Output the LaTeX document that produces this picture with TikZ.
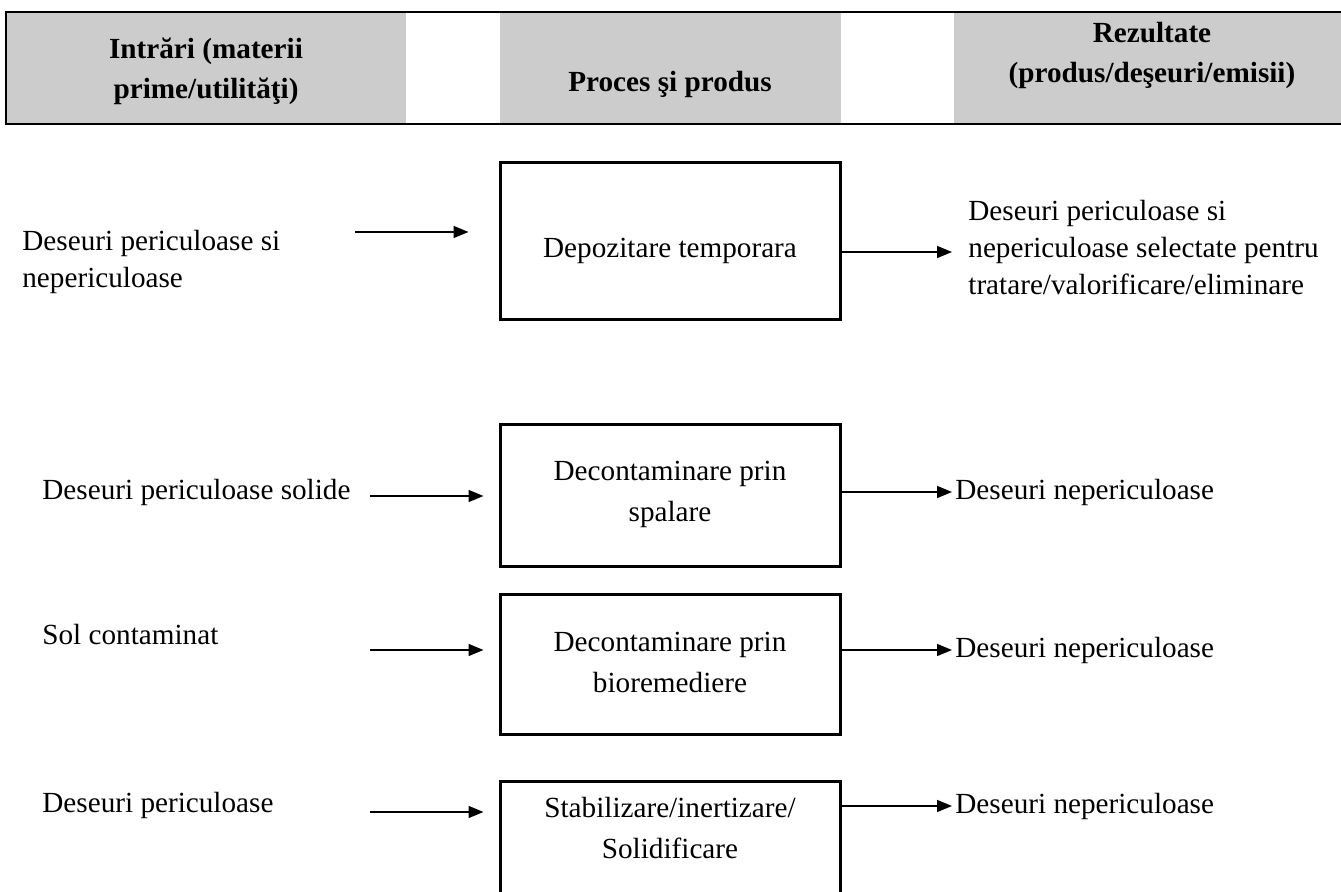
\documentclass[tikz,border=0pt]{standalone}
\usepackage{fontspec}
\setmainfont{Liberation Serif}
\definecolor{headGray}{HTML}{CCCCCC}
\usetikzlibrary{arrows.meta, positioning, calc}

\begin{document}
\begin{tikzpicture}[x=0.5pt, y=-0.5pt,
    headcell/.style={fill=headGray, draw=none, inner sep=0pt, anchor=north west, minimum height=55.5pt},
    headtxt/.style={font=\fontsize{14.6}{20}\selectfont\bfseries, align=center, inner sep=0pt},
    bodytxt/.style={font=\fontsize{14.6}{18.5}\selectfont, align=left, anchor=west, inner sep=0pt},
    procbox/.style={draw, line width=1.5pt, minimum width=170pt, inner sep=0pt},
    proctxt/.style={font=\fontsize{14.6}{20.5}\selectfont, align=center, inner sep=0pt},
    flow/.style={-{Triangle[length=7.5pt, width=6pt]}, line width=0.75pt}]
  \clip (0,0) rectangle (1341,892);

  % header row
  \node[headcell, minimum width=200pt] (cellIn) at (6,12) {};
  \node[headcell, minimum width=170.5pt] (cellProc) at (500,12) {};
  \node[headcell, minimum width=193.5pt] (cellOut) at (954,12) {};
  \draw[line width=0.9pt] (cellOut.north east) -- (cellIn.north west)
        -- (cellIn.south west) -- (cellOut.south east);
  \node[headtxt] (hdrIn) at (206,71.5) {Intrări (materii\\prime/utilităţi)};
  \node[headtxt] (hdrProc) at (670,84.5) {Proces şi produs};
  \node[headtxt] (hdrOut) at (1152,55.5) {Rezultate\\(produs/deşeuri/emisii)};

  % process boxes
  \node[procbox, minimum height=78.5pt] (depo) at (670,241.5) {};
  \node[procbox, minimum height=71pt] (spal) at (670,496) {};
  \node[procbox, minimum height=70pt] (bior) at (670,665) {};
  \node[procbox, minimum height=71pt] (stab) at (670,853) {};
  \node[proctxt] (depoTxt) at (670,250.5) {Depozitare temporara};
  \node[proctxt] (spalTxt) at (670,494) {Decontaminare prin\\spalare};
  \node[proctxt] (biorTxt) at (670,662) {Decontaminare prin\\bioremediere};
  \node[proctxt] (stabTxt) at (670,828) {Stabilizare/inertizare/\\Solidificare};

  % inputs
  \node[bodytxt] (inDepo) at (22,261.5) {Deseuri periculoase si\\nepericuloase};
  \node[bodytxt] (inSpal) at (42,492) {Deseuri periculoase solide};
  \node[bodytxt] (inBior) at (42,635) {Sol contaminat};
  \node[bodytxt] (inStab) at (42,805) {Deseuri periculoase};

  % outputs
  \node[bodytxt] (outDepo) at (968,248) {Deseuri periculoase si\\nepericuloase selectate pentru\\tratare/valorificare/eliminare};
  \node[bodytxt] (outSpal) at (955,492) {Deseuri nepericuloase};
  \node[bodytxt] (outBior) at (955,650) {Deseuri nepericuloase};
  \node[bodytxt] (outStab) at (955,806) {Deseuri nepericuloase};

  % arrow ends
  \coordinate (aDepo) at (355,232);
  \coordinate (aSpal) at (370,496);
  \coordinate (aBior) at (370,650);
  \coordinate (aStab) at (370,812);
  \coordinate (bDepo) at (952,252);
  \coordinate (bSpal) at (952,492);
  \coordinate (bBior) at (952,650);
  \coordinate (bStab) at (952,806);

  \draw[flow, shorten >=15pt] (aDepo) -- (aDepo -| depo.west);
  \draw[flow, shorten >=7.5pt] (aSpal) -- (aSpal -| spal.west);
  \draw[flow, shorten >=7.5pt] (aBior) -- (aBior -| bior.west);
  \draw[flow, shorten >=7.5pt] (aStab) -- (aStab -| stab.west);

  \draw[flow] (bDepo -| depo.east) -- (bDepo);
  \draw[flow] (bSpal -| spal.east) -- (bSpal);
  \draw[flow] (bBior -| bior.east) -- (bBior);
  \draw[flow] (bStab -| stab.east) -- (bStab);
\end{tikzpicture}
\end{document}
